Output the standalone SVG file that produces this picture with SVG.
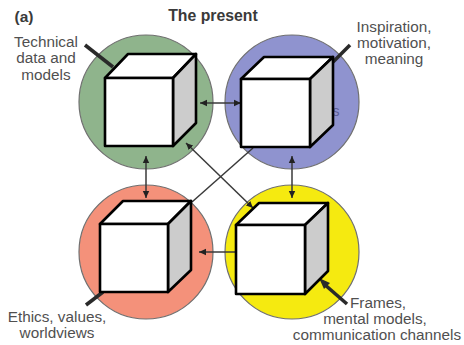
<svg xmlns="http://www.w3.org/2000/svg" width="464" height="345" viewBox="0 0 464 345">
<style>
text{font-family:"Liberation Sans",Arial,sans-serif;font-size:15.3px;fill:#505050;text-anchor:middle}
.h{font-weight:700;font-size:15.5px;fill:#3a3a3a}
.c{stroke:#707070;stroke-width:1.2}
.front,.top{fill:#fff;stroke:#000;stroke-width:2.6;stroke-linejoin:round}
.side{fill:#ccc;stroke:#000;stroke-width:2.6;stroke-linejoin:round}
.l{stroke:#3a3a3a;stroke-width:1.5;fill:none}
.t{stroke:#2a2a2a;stroke-width:3.6;fill:none}
</style>
<defs>
<marker id="a" markerUnits="userSpaceOnUse" markerWidth="8" markerHeight="8" refX="7" refY="4" orient="auto-start-reverse"><path d="M0 .8L7 4L0 7.2z" fill="#222"/></marker>
</defs>
<rect width="464" height="345" fill="#fff"/>
<text class="h" x="24" y="22">(a)</text>
<text class="h" x="213" y="21" style="font-size:15.8px">The present</text>
<g id="circles">
<circle class="c" cx="146" cy="102" r="67" fill="#8fb48c"/>
<circle class="c" cx="292" cy="102" r="67" fill="#8f93cf"/>
<circle class="c" cx="146" cy="252" r="67" fill="#f4917a"/>
<circle class="c" cx="292" cy="252" r="67" fill="#f5ea10"/>
</g>
<text x="336" y="116" style="fill:#5a5e96;font-size:14px">s</text>
<g id="connectors">
<path class="l" d="M200 103H241" marker-start="url(#a)" marker-end="url(#a)"/>
<path class="l" d="M146 156V198" marker-start="url(#a)" marker-end="url(#a)"/>
<path class="l" d="M292 156V198" marker-start="url(#a)" marker-end="url(#a)"/>
<path class="l" d="M236 252H199" marker-end="url(#a)"/>
<path class="l" d="M253 208L186 143" marker-end="url(#a)" marker-start="url(#a)"/>
<path class="l" d="M192 202L253 148"/>
<path class="t" d="M85 45L113 67"/>
<path class="t" d="M350 45L333 62"/>
<path class="t" d="M86 305L103 292"/>
<path class="t" d="M347 304L324 284"/>
<path d="M319 278L330 283L324 289z" fill="#2a2a2a"/>
</g>
<g id="cube-green"><path class="top" d="M105 78L128 54H196L173 78z"/><path class="side" d="M173 78L196 54V123L173 146z"/><rect class="front" x="105" y="78" width="68" height="68"/></g>
<g id="cube-blue"><path class="top" d="M241 79L264 57H333L310 79z"/><path class="side" d="M310 79L333 57V125L310 147z"/><rect class="front" x="241" y="79" width="69" height="68"/></g>
<g id="cube-orange"><path class="top" d="M100 224L123 201H191L168 224z"/><path class="side" d="M168 224L191 201V270L168 292z"/><rect class="front" x="100" y="224" width="68" height="68"/></g>
<g id="cube-yellow"><path class="top" d="M236 225L259 203H328L305 225z"/><path class="side" d="M305 225L328 203V271L305 294z"/><rect class="front" x="236" y="225" width="69" height="69"/></g>
<g id="labels">
<text x="46" y="47">Technical</text><text x="46" y="63">data and</text><text x="46" y="80">models</text>
<text x="394" y="32">Inspiration,</text><text x="394" y="48">motivation,</text><text x="394" y="64">meaning</text>
<text x="57" y="322">Ethics, values,</text><text x="57" y="338">worldviews</text>
<text x="378" y="308">Frames,</text><text x="375" y="324">mental models,</text><text x="377" y="340">communication channels</text>
</g>
</svg>
